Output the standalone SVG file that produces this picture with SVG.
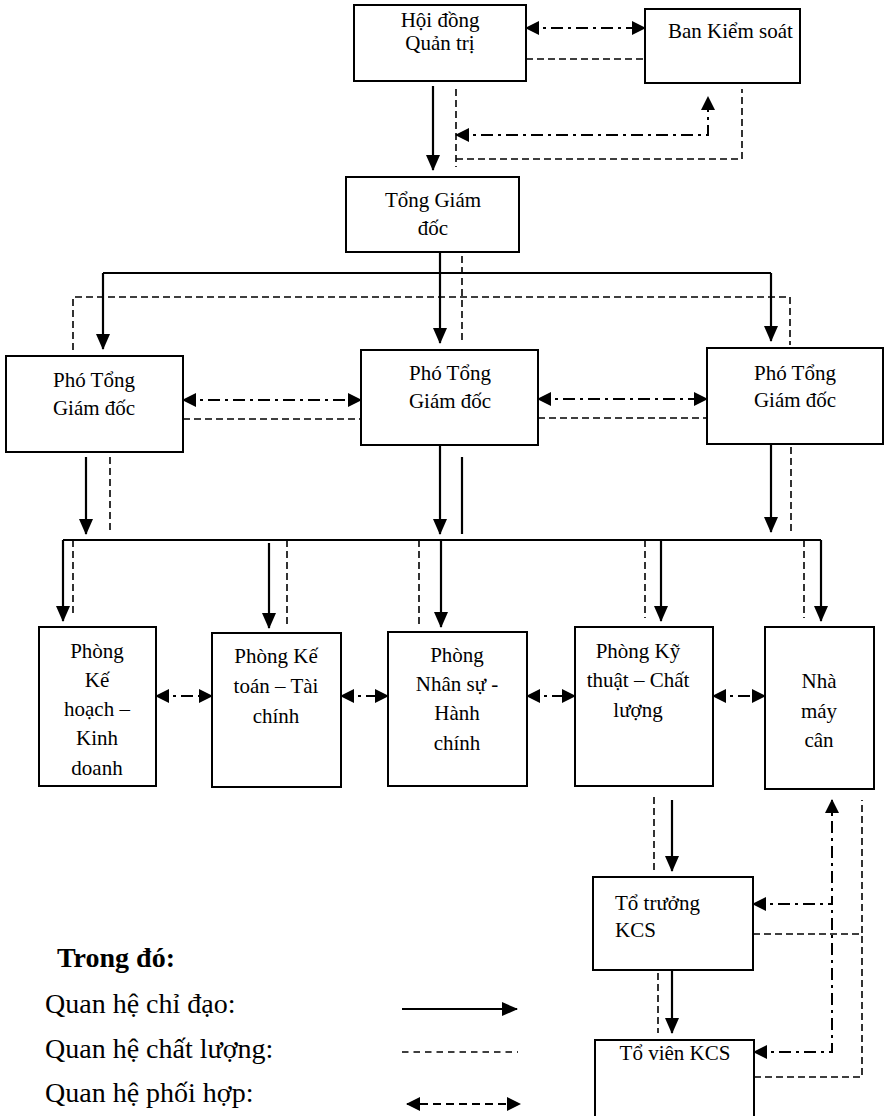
<svg xmlns="http://www.w3.org/2000/svg" width="885" height="1116" viewBox="0 0 885 1116">
<defs>
<marker id="ah" viewBox="0 0 16 14" refX="15" refY="7" markerWidth="16" markerHeight="14" markerUnits="userSpaceOnUse" orient="auto"><path d="M0,0 L16,7 L0,14 z" fill="#000"/></marker>
<marker id="ch" viewBox="0 0 14 14" refX="13" refY="7" markerWidth="14" markerHeight="14" markerUnits="userSpaceOnUse" orient="auto-start-reverse"><path d="M0,0 L14,7 L0,14 z" fill="#000"/></marker>
</defs>
<style>
.box{fill:#fff;stroke:#000;stroke-width:2}
.t{font-family:"Liberation Serif","Times New Roman",serif;font-size:21px;fill:#000;text-anchor:middle}
.ts{font-family:"Liberation Serif","Times New Roman",serif;font-size:21px;fill:#000}
.lg{font-family:"Liberation Serif","Times New Roman",serif;font-size:28px;fill:#000}
.ln{fill:none;stroke:#000;stroke-width:2.2}
.ctrl{fill:none;stroke:#000;stroke-width:2.2;marker-end:url(#ah)}
.q{fill:none;stroke:#000;stroke-width:1.6;stroke-dasharray:7 4}
.co{fill:none;stroke:#000;stroke-width:2;stroke-dasharray:12 5 3 5;marker-start:url(#ch);marker-end:url(#ch)}
.co1{fill:none;stroke:#000;stroke-width:2;stroke-dasharray:12 5 3 5;marker-start:url(#ch)}
</style>
<rect width="885" height="1116" fill="#fff"/>

<g id="connectors">
<!-- control (chỉ đạo) -->
<path class="ctrl" d="M433,86 V170"/>
<path class="ctrl" d="M440,252 V343"/>
<path class="ln" d="M103,273 H771"/>
<path class="ctrl" d="M103,273 V349"/>
<path class="ctrl" d="M771,273 V341"/>
<path class="ctrl" d="M86,457 V534"/>
<path class="ctrl" d="M440,445 V534"/>
<path class="ln" d="M462,457 V534"/>
<path class="ctrl" d="M771,444 V532"/>
<path class="ln" d="M63,540 H821"/>
<path class="ctrl" d="M63,540 V621"/>
<path class="ctrl" d="M821,540 V621"/>
<path class="ctrl" d="M269,543 V628"/>
<path class="ctrl" d="M441,540 V627"/>
<path class="ctrl" d="M661,540 V621"/>
<path class="ctrl" d="M672,800 V871"/>
<path class="ctrl" d="M672,962 V1033"/>
<!-- quality (chất lượng) -->
<path class="q" d="M526,59 H645"/>
<path class="q" d="M456,89 V167"/>
<path class="q" d="M456,159 H742 V89"/>
<path class="q" d="M462,256 V343"/>
<path class="q" d="M73,350 V297 H790 V345"/>
<path class="q" d="M183,419 H361"/>
<path class="q" d="M538,418 H707"/>
<path class="q" d="M110,457 V534"/>
<path class="q" d="M791,447 V532"/>
<path class="q" d="M73,540 V617"/>
<path class="q" d="M287,540 V627"/>
<path class="q" d="M419,540 V627"/>
<path class="q" d="M645,540 V618"/>
<path class="q" d="M804,540 V618"/>
<path class="q" d="M654,797 V872"/>
<path class="q" d="M658,962 V1033"/>
<path class="q" d="M753,934 H862 V800"/>
<path class="q" d="M754,1077 H862 V934"/>
<!-- coordination (phối hợp) -->
<path class="co" d="M526,28 H645"/>
<path class="co" d="M456,135 H708 V97"/>
<path class="co" d="M183,400 H361"/>
<path class="co" d="M538,399 H707"/>
<path class="co" d="M156,696 H212"/>
<path class="co" d="M341,696 H388"/>
<path class="co" d="M527,696 H575"/>
<path class="co" d="M713,696 H765"/>
<path class="co" d="M753,904 H832 V800"/>
<path class="co1" d="M754,1052 H832 V904"/>
</g>

<g id="hdqt"><rect class="box" x="354" y="5" width="172" height="76"/>
<text class="t" x="440" y="27">Hội đồng</text><text class="t" x="440" y="50">Quản trị</text></g>
<g id="bks"><rect class="box" x="645" y="9" width="155" height="74"/>
<text class="ts" x="668" y="38">Ban Kiểm soát</text></g>
<g id="tgd"><rect class="box" x="346" y="177" width="173" height="75"/>
<text class="t" x="433" y="207">Tổng Giám</text><text class="t" x="433" y="235">đốc</text></g>
<g id="ptgd1"><rect class="box" x="6" y="356" width="177" height="96"/>
<text class="t" x="94" y="387">Phó Tổng</text><text class="t" x="94" y="415">Giám đốc</text></g>
<g id="ptgd2"><rect class="box" x="361" y="350" width="177" height="95"/>
<text class="t" x="450" y="380">Phó Tổng</text><text class="t" x="450" y="408">Giám đốc</text></g>
<g id="ptgd3"><rect class="box" x="707" y="348" width="176" height="96"/>
<text class="t" x="795" y="380">Phó Tổng</text><text class="t" x="795" y="407">Giám đốc</text></g>

<g id="p-khkd"><rect class="box" x="39" y="627" width="117" height="159"/>
<text class="t" x="97" y="658">Phòng</text><text class="t" x="97" y="687">Kế</text><text class="t" x="97" y="716">hoạch –</text><text class="t" x="97" y="745">Kinh</text><text class="t" x="97" y="775">doanh</text></g>
<g id="p-kttc"><rect class="box" x="212" y="633" width="129" height="154"/>
<text class="t" x="276" y="663">Phòng Kế</text><text class="t" x="276" y="693">toán – Tài</text><text class="t" x="276" y="723">chính</text></g>
<g id="p-nshc"><rect class="box" x="388" y="632" width="139" height="154"/>
<text class="t" x="457" y="662">Phòng</text><text class="t" x="457" y="691">Nhân sự -</text><text class="t" x="457" y="720">Hành</text><text class="t" x="457" y="750">chính</text></g>
<g id="p-ktcl"><rect class="box" x="575" y="627" width="138" height="159"/>
<text class="t" x="638" y="658">Phòng Kỹ</text><text class="t" x="638" y="687">thuật – Chất</text><text class="t" x="638" y="717">lượng</text></g>
<g id="p-nmc"><rect class="box" x="765" y="627" width="109" height="162"/>
<text class="t" x="819" y="688">Nhà</text><text class="t" x="819" y="718">máy</text><text class="t" x="819" y="747">cân</text></g>

<g id="to-truong"><rect class="box" x="593" y="877" width="160" height="93"/>
<text class="ts" x="615" y="910">Tổ trưởng</text><text class="ts" x="615" y="937">KCS</text></g>
<g id="to-vien"><rect class="box" x="595" y="1040" width="159" height="82"/>
<text class="t" x="675" y="1060">Tổ viên KCS</text></g>

<g id="legend">
<text class="lg" x="57" y="967" font-weight="bold">Trong đó:</text>
<text class="lg" x="45" y="1013">Quan hệ chỉ đạo:</text>
<text class="lg" x="45" y="1058">Quan hệ chất lượng:</text>
<text class="lg" x="45" y="1102">Quan hệ phối hợp:</text>
<path class="ctrl" d="M402,1009 H517"/>
<path fill="none" stroke="#000" stroke-width="1.6" stroke-dasharray="6.5 5" d="M402,1052 H518"/>
<path fill="none" stroke="#000" stroke-width="2" stroke-dasharray="8 5" marker-start="url(#ch)" marker-end="url(#ch)" d="M407,1104 H520"/>
</g>
</svg>
